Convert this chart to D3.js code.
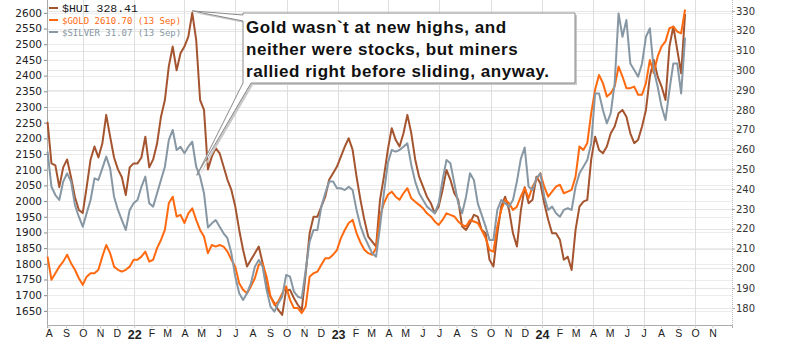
<!DOCTYPE html>
<html>
<head>
<meta charset="utf-8">
<script src="https://cdn.jsdelivr.net/npm/d3@7"></script>
<style>
  html, body { margin: 0; padding: 0; background: #fff; }
  svg { display: block; }
</style>
</head>
<body>
<svg id="chart" width="798" height="343"></svg>
<script>
// weekly closes, first one is Fri 30 Jul 2021, last one Fri 13 Sep 2024
const firstWeek = new Date(2021, 6, 30);

const hui = [274, 253, 252, 241, 251, 255, 246, 236, 229.5, 228, 241, 255, 261.5, 256, 263, 277.5,
  266.5, 256, 250, 246, 237, 251, 253, 253, 256, 266.5, 251, 255, 263, 276.6, 285, 302, 312, 300,
  308.6, 312, 317, 329, 315.4, 285, 280, 250, 256.4, 260.7, 258.1, 251.4, 244.7, 239.6, 231.2, 219.4,
  209.3, 200.9, 204.3, 207.6, 211, 202.6, 190.8, 185.7, 182.4, 179, 176.5, 189.1, 189.1, 184.9, 181.5,
  179, 197.5, 217.7, 226.1, 226.1, 231.2, 236.2, 244.7, 248, 251.4, 256.4, 261.5, 265.7, 259.8, 246.3,
  234.6, 224.5, 216, 213.5, 211, 234.6, 246.3, 259.8, 270.8, 264.9, 261.5, 268.2, 277.5, 268.2, 255,
  246.3, 241.3, 236.2, 232.9, 227.8, 231.2, 239.6, 249.7, 244.7, 237.9, 234.6, 221.1, 219.4, 222.8, 227,
  226.1, 219.4, 217.7, 204.3, 200.9, 217.7, 231.2, 236.2, 229.5, 217.7, 211, 229, 241, 232.9, 234.6,
  246.3, 243, 232.9, 224.5, 217.7, 217.7, 214.4, 204.3, 205.9, 199.2, 219.4, 231.2, 233.7, 234.6, 255,
  266.5, 259.8, 258.1, 261.5, 268.2, 271.6, 278.3, 280, 276.6, 268.2, 263.2, 264.9, 271.6, 280, 296.8,
  305.3, 296.8, 291.8, 285, 312, 322.1, 310.3, 298.5, 328.41];

const gold = [1823, 1749, 1770, 1791, 1807, 1829, 1802, 1781, 1754, 1733, 1759, 1770, 1770, 1781, 1823,
  1860, 1834, 1791, 1781, 1775, 1781, 1791, 1813, 1813, 1823, 1839, 1807, 1813, 1850, 1876, 1908, 1993,
  2014, 1951, 1956, 1930, 1961, 1977, 1940, 1908, 1887, 1834, 1860, 1855, 1860, 1855, 1839, 1813, 1791,
  1738, 1717, 1706, 1728, 1754, 1797, 1802, 1759, 1696, 1669, 1680, 1706, 1728, 1685, 1659, 1659, 1643,
  1664, 1759, 1770, 1775, 1797, 1818, 1818, 1829, 1844, 1882, 1908, 1930, 1940, 1898, 1868, 1845, 1834,
  1829, 1850, 1951, 1993, 2020, 2030, 2014, 2004, 2025, 2041, 2009, 1998, 1988, 1977, 1961, 1951, 1935,
  1924, 1940, 1961, 1956, 1951, 1935, 1924, 1919, 1940, 1935, 1930, 1908, 1882, 1844, 1839, 1919, 1972,
  2004, 1993, 1972, 1982, 2014, 2041, 2009, 2046, 2068, 2089, 2046, 2014, 2030, 2046, 2052, 2025, 2030,
  2036, 2078, 2174, 2163, 2185, 2280, 2355, 2402, 2376, 2333, 2344, 2365, 2429, 2397, 2360, 2360, 2365,
  2339, 2339, 2376, 2450, 2408, 2461, 2493, 2509, 2551, 2556, 2540, 2535, 2610.7];

const silver = [25.55, 23.85, 23.45, 23.21, 24.1, 24.5, 24.1, 22.97, 22.4, 21.92, 22.57, 23.21, 24.26,
  24.18, 24.74, 25.31, 24.74, 23.37, 22.73, 22.24, 21.76, 22.73, 23.05, 23.21, 23.85, 24.34, 23.05, 22.89,
  23.54, 24.18, 24.82, 26.11, 26.6, 25.63, 25.79, 25.47, 25.79, 26.03, 24.82, 24.34, 23.54, 21.88, 22.08,
  22.24, 21.92, 21.6, 21.36, 20.63, 19.5, 18.7, 18.37, 18.7, 19.18, 19.98, 20.31, 19.98, 18.86, 18.05,
  17.81, 18.21, 18.53, 19.58, 19.5, 18.77, 18.53, 18.46, 19.82, 21.19, 21.76, 21.76, 22.89, 23.54, 24.1,
  24.1, 23.78, 23.78, 23.69, 23.85, 23.69, 22.73, 21.96, 21.44, 21.03, 20.63, 20.47, 21.92, 23.54, 24.99,
  25.63, 25.55, 25.63, 25.79, 25.95, 24.9, 24.1, 23.54, 23.21, 22.89, 22.73, 22.57, 23.05, 24.18, 25.15,
  24.99, 24.02, 23.05, 22.57, 23.37, 24.5, 24.18, 23.05, 22.49, 21.92, 21.28, 21.28, 22.73, 23.21, 23.05,
  22.89, 23.21, 24.1, 25.2, 25.75, 23.85, 23.69, 24.26, 24.5, 23.37, 22.73, 22.89, 22.57, 22.4, 22.73,
  22.81, 22.73, 23.85, 24.5, 24.82, 25.15, 25.95, 28.37, 28.37, 27.57, 26.92, 27.41, 28.86, 32.24, 31.11,
  31.92, 29.82, 29.5, 29.18, 29.82, 31.11, 31.52, 29.5, 28.69, 27.72, 27.08, 28.53, 29.82, 29.82, 28.37,
  31.07];

const goldTicks = d3.range(1650, 2601, 50);
const huiTicks = d3.range(180, 331, 10);
const monthInitials = ['J', 'F', 'M', 'A', 'M', 'J', 'J', 'A', 'S', 'O', 'N', 'D'];

const legendItems = [
  { text: '$HUI 328.41', color: '#1a1a1a', swatch: '#a4552f', font: '"Liberation Mono", monospace', size: 11.5 },
  { text: '$GOLD 2610.70 (13 Sep)', color: '#ff6a10', swatch: '#ff6a10', font: '"DejaVu Sans Mono", monospace', size: 9 },
  { text: '$SILVER 31.07 (13 Sep)', color: '#8797a3', swatch: '#8797a3', font: '"DejaVu Sans Mono", monospace', size: 9 }
];

const noteLines = [
  'Gold wasn`t at new highs, and',
  'neither were stocks, but miners',
  'rallied right before sliding, anyway.'
];

const margin = { left: 47, right: 732, top: 0, bottom: 325 };
const svg = d3.select('#chart');

const dates = hui.map((d, i) => d3.timeDay.offset(firstWeek, i * 7));

const x = d3.scaleTime()
  .domain([new Date(2021, 6, 29), new Date(2024, 11, 6)])
  .range([margin.left, margin.right]);

const yGold = d3.scaleLinear().domain([1605, 2641]).range([margin.bottom, margin.top]);
const yHui = d3.scaleLinear().domain([171.4, 335.5]).range([margin.bottom, margin.top]);
const ySilver = d3.scaleLinear().domain([17.16, 32.89]).range([margin.bottom, margin.top]);

// grid
const grid = svg.append('g');
grid.selectAll('.gl').data(goldTicks).enter().append('line')
  .attr('x1', margin.left).attr('x2', margin.right)
  .attr('y1', d => Math.round(yGold(d)) + 0.5).attr('y2', d => Math.round(yGold(d)) + 0.5)
  .attr('stroke', '#ececec');
grid.selectAll('.gr').data(huiTicks).enter().append('line')
  .attr('x1', margin.left).attr('x2', margin.right)
  .attr('y1', d => Math.round(yHui(d)) + 0.5).attr('y2', d => Math.round(yHui(d)) + 0.5)
  .attr('stroke', '#e6e6e6');
const quarters = d3.timeMonth.every(3).range(new Date(2021, 7, 1), new Date(2024, 11, 6));
grid.selectAll('.gv').data(quarters).enter().append('line')
  .attr('x1', d => Math.round(x(d)) + 0.5).attr('x2', d => Math.round(x(d)) + 0.5)
  .attr('y1', margin.top).attr('y2', margin.bottom)
  .attr('stroke', '#dedede');

// left axis
const leftAxis = svg.append('g')
  .attr('transform', `translate(${margin.left},0)`)
  .call(d3.axisLeft(yGold).tickValues(goldTicks).tickFormat(d3.format('d')).tickSize(3).tickPadding(2));
leftAxis.select('.domain').remove();
leftAxis.selectAll('line').attr('stroke', '#888');
leftAxis.selectAll('text')
  .attr('font-family', '"DejaVu Sans", sans-serif').attr('font-size', 10.5).attr('fill', '#222');
svg.append('line')
  .attr('x1', margin.left + 0.5).attr('x2', margin.left + 0.5)
  .attr('y1', margin.top).attr('y2', margin.bottom)
  .attr('stroke', '#aaa');

// right axis
const rightAxis = svg.append('g')
  .attr('transform', `translate(${margin.right},0)`)
  .call(d3.axisRight(yHui).tickValues(huiTicks).tickSize(3).tickPadding(1));
rightAxis.select('.domain').remove();
rightAxis.selectAll('line').attr('stroke', '#aaa');
rightAxis.selectAll('text')
  .attr('font-family', '"DejaVu Sans", sans-serif').attr('font-size', 10).attr('fill', '#333');
svg.append('line')
  .attr('x1', margin.right + 0.5).attr('x2', margin.right + 0.5)
  .attr('y1', margin.top).attr('y2', margin.bottom)
  .attr('stroke', '#bbb').attr('stroke-dasharray', '1,1');

// bottom axis
const months = d3.timeMonth.range(new Date(2021, 7, 1), new Date(2024, 11, 1));
const bottomAxis = svg.append('g')
  .attr('transform', `translate(0,${margin.bottom})`)
  .call(d3.axisBottom(x).tickValues(months).tickSize(3).tickPadding(2)
    .tickFormat(d => d.getMonth() === 0 ? d3.timeFormat('%y')(d) : monthInitials[d.getMonth()]));
bottomAxis.select('.domain').attr('stroke', '#aaa');
bottomAxis.selectAll('line').attr('stroke', '#ccc');
bottomAxis.selectAll('text')
  .attr('font-family', '"Liberation Sans", Arial, sans-serif')
  .attr('font-size', d => d.getMonth() === 0 ? 12.5 : 10.5)
  .attr('font-weight', d => d.getMonth() === 0 ? 'bold' : 'normal')
  .attr('fill', '#222');

// series
const plot = svg.append('g');
const series = [
  { values: hui, scale: yHui, color: '#a4552f' },
  { values: gold, scale: yGold, color: '#ff6a10' },
  { values: silver, scale: ySilver, color: '#8797a3' }
];
series.forEach(s => {
  const line = d3.line()
    .x((d, i) => x(dates[i]))
    .y(d => s.scale(d));
  plot.append('path')
    .attr('d', line(s.values))
    .attr('fill', 'none')
    .attr('stroke', s.color)
    .attr('stroke-width', 2)
    .attr('stroke-linejoin', 'round');
});

// legend
const legend = svg.append('g');
legendItems.forEach((item, i) => {
  const cy = 8 + i * 12;
  legend.append('line')
    .attr('x1', 49).attr('x2', 58).attr('y1', cy).attr('y2', cy)
    .attr('stroke', item.swatch).attr('stroke-width', 2);
  legend.append('text')
    .attr('x', 62).attr('y', cy + 4)
    .attr('font-family', item.font).attr('font-size', item.size)
    .attr('fill', item.color)
    .text(item.text);
});

// callout
const peak = [x(new Date(2022, 3, 15)), yHui(330)];
const dip = [x(new Date(2022, 3, 23)), ySilver(24.4)];
const box = { x0: 243, y0: 13, x1: 575, y1: 83 };
const calloutPath = `M${box.x0},${box.y0} H${box.x1} V${box.y1} H${box.x0 + 8} L${dip[0]},${dip[1]} L${box.x0},${box.y1} V${box.y0 + 8} L${peak[0]},${peak[1]} L${box.x0},${box.y0 + 2} Z`;
const callout = svg.append('g');
callout.append('path')
  .attr('d', calloutPath)
  .attr('transform', 'translate(2,2)')
  .attr('fill', '#c9c9c9');
callout.append('path')
  .attr('d', calloutPath)
  .attr('fill', '#fff')
  .attr('stroke', '#8a8a8a')
  .attr('stroke-width', 1);
callout.selectAll('text').data(noteLines).enter().append('text')
  .attr('x', box.x0 + 3)
  .attr('y', (d, i) => 33 + i * 22)
  .attr('font-family', '"Liberation Sans", Arial, sans-serif')
  .attr('font-weight', 'bold')
  .attr('font-size', 17)
  .attr('letter-spacing', 0.55)
  .attr('fill', '#111')
  .text(d => d);
</script>
</body>
</html>
